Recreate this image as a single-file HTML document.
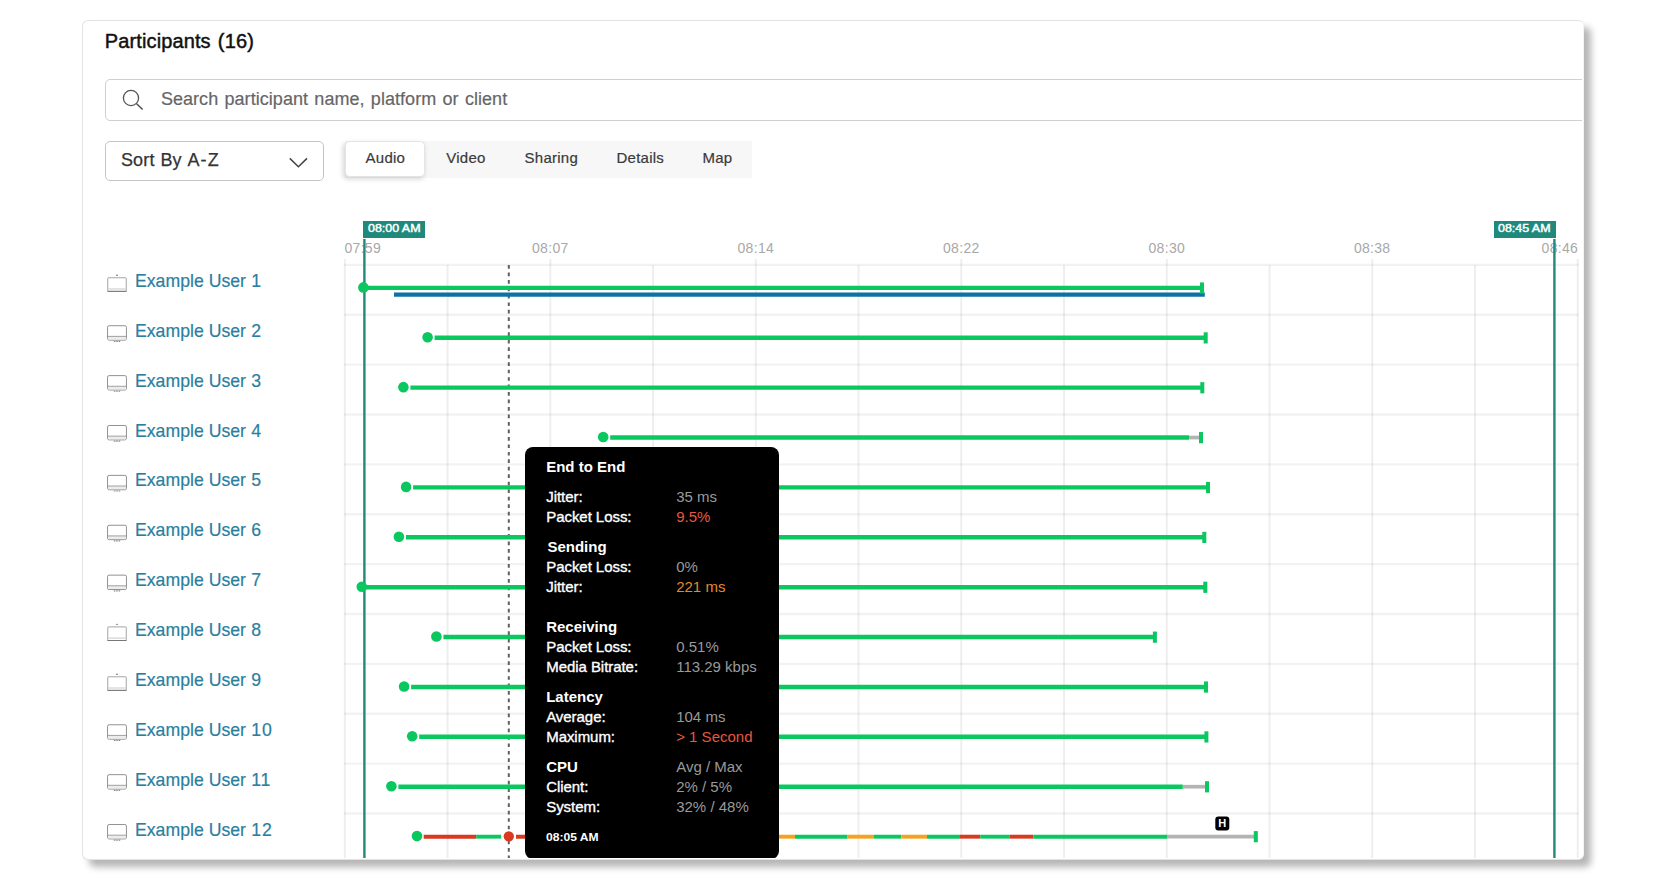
<!DOCTYPE html>
<html lang="en">
<head>
<meta charset="utf-8">
<title>Participants</title>
<style>
html,body{margin:0;padding:0;background:#fff;}
body{width:1664px;height:880px;position:relative;overflow:hidden;font-family:"Liberation Sans",sans-serif;color:#222;}
.card{position:absolute;left:82.3px;top:20.2px;width:1501.6px;height:839.8px;box-sizing:border-box;background:#fff;border:1.8px solid #e3e3e3;border-right-color:#f4f4f4;border-radius:6px;box-shadow:7px 7px 7px rgba(0,0,0,0.29);}
.clip{position:absolute;left:84px;top:22px;width:1498.4px;height:836.4px;overflow:hidden;border-radius:4px;}
.inner{position:absolute;left:-84px;top:-22px;width:1664px;height:880px;}
.abs{position:absolute;white-space:nowrap;}
.title{left:104.8px;top:29px;font-size:20px;line-height:24px;color:#111;letter-spacing:0.12px;-webkit-text-stroke:0.45px #111;}
.title span{margin-left:1.4px;letter-spacing:0.2px;}
.search{left:104.5px;top:79px;width:1490px;height:42px;box-sizing:border-box;border:1.4px solid #cfcfcf;border-radius:5px;}
.stext{left:160.9px;top:88px;font-size:18px;line-height:22px;color:#666;letter-spacing:0.05px;word-spacing:1.2px;-webkit-text-stroke:0.2px #666;}
.sort{left:104.5px;top:141px;width:219.5px;height:40px;box-sizing:border-box;border:1.4px solid #c4c4c4;border-radius:5px;}
.sorttext{left:120.9px;top:149px;font-size:18px;line-height:22px;color:#333;letter-spacing:0.2px;word-spacing:0.5px;-webkit-text-stroke:0.25px #333;}
.sorttext span{letter-spacing:1.1px;}
.tabs{left:345px;top:141px;width:407px;height:37.3px;background:#f7f7f7;}
.tabon{left:345.2px;top:141.2px;width:80.3px;height:36px;box-sizing:border-box;background:#fff;border:1px solid #e4e4e4;border-radius:4.5px;box-shadow:-1.5px 2px 5px rgba(0,0,0,0.17);}
.tab{top:149px;font-size:15px;line-height:18px;color:#3a3a3a;letter-spacing:0.25px;-webkit-text-stroke:0.2px #3a3a3a;}
.flag{top:221px;height:17.2px;width:62px;background:#1f8a7b;color:#fff;font-size:11px;font-weight:400;line-height:15.6px;text-align:center;-webkit-text-stroke:0.45px #fff;}
.flag span{display:inline-block;transform:scaleX(1.13);transform-origin:50% 50%;}
.nm span{letter-spacing:0.9px;margin-left:0.4px;}
.ax{position:absolute;top:238.8px;width:60px;margin-left:-30px;text-align:center;font-size:14px;line-height:18px;color:#a8a8a8;letter-spacing:0.3px;white-space:nowrap;}
.nm{position:absolute;left:135.1px;font-size:19px;line-height:22px;color:#2b7e9e;-webkit-text-stroke:0.2px #2b7e9e;white-space:nowrap;transform:scaleX(0.93);transform-origin:0 50%;}
svg.chart{position:absolute;left:0;top:0;}
.tip{position:absolute;left:525.2px;top:446.9px;width:253.4px;height:411.9px;background:#000;border-radius:8px;color:#fff;font-size:15px;line-height:20px;}
.tip div{position:absolute;white-space:nowrap;}
.tip div.th{left:21px;font-weight:700;}
.tl{left:21px;-webkit-text-stroke:0.35px #fff;letter-spacing:-0.05px;}
.tv{left:151px;}
.tv.g{color:#9a9a9a;}
.tv.red{color:#e8573f;}
.tv.or{color:#e58a2c;}
.tip div.tt{left:21px;font-size:11px;font-weight:700;transform:scaleX(1.10);transform-origin:0 50%;}
</style>
</head>
<body>
<div class="card"></div>
<div class="clip"><div class="inner">
<div class="abs title">Participants <span>(16)</span></div>
<div class="abs search"></div>
<div class="abs stext">Search participant name, platform or client</div>
<div class="abs sort"></div>
<div class="abs sorttext">Sort By <span>A-Z</span></div>
<div class="abs tabs"></div>
<div class="abs tabon"></div>
<div class="abs tab" style="left:365.6px">Audio</div>
<div class="abs tab" style="left:446.3px">Video</div>
<div class="abs tab" style="left:524.6px">Sharing</div>
<div class="abs tab" style="left:616.5px">Details</div>
<div class="abs tab" style="left:702.5px">Map</div>
<div class="ax" style="left:374.5px;text-align:left">07:59</div><div class="ax" style="left:550.3px">08:07</div><div class="ax" style="left:755.8px">08:14</div><div class="ax" style="left:961.3px">08:22</div><div class="ax" style="left:1166.8px">08:30</div><div class="ax" style="left:1372.2px">08:38</div><div class="ax" style="left:1548.1px;text-align:right">08:46</div>
<svg class="chart" width="1664" height="880" viewBox="0 0 1664 880">
<defs><clipPath id="cc"><rect x="84" y="22" width="1498.4" height="836.4"/></clipPath></defs>
<g clip-path="url(#cc)">
<line x1="344.85" y1="259" x2="344.85" y2="860" stroke="#000" stroke-opacity="0.066" stroke-width="2"/>
<line x1="447.59" y1="265" x2="447.59" y2="860" stroke="#000" stroke-opacity="0.066" stroke-width="2"/>
<line x1="550.33" y1="259" x2="550.33" y2="860" stroke="#000" stroke-opacity="0.066" stroke-width="2"/>
<line x1="653.07" y1="265" x2="653.07" y2="860" stroke="#000" stroke-opacity="0.066" stroke-width="2"/>
<line x1="755.81" y1="259" x2="755.81" y2="860" stroke="#000" stroke-opacity="0.066" stroke-width="2"/>
<line x1="858.55" y1="265" x2="858.55" y2="860" stroke="#000" stroke-opacity="0.066" stroke-width="2"/>
<line x1="961.29" y1="259" x2="961.29" y2="860" stroke="#000" stroke-opacity="0.066" stroke-width="2"/>
<line x1="1064.03" y1="265" x2="1064.03" y2="860" stroke="#000" stroke-opacity="0.066" stroke-width="2"/>
<line x1="1166.77" y1="259" x2="1166.77" y2="860" stroke="#000" stroke-opacity="0.066" stroke-width="2"/>
<line x1="1269.51" y1="265" x2="1269.51" y2="860" stroke="#000" stroke-opacity="0.066" stroke-width="2"/>
<line x1="1372.25" y1="259" x2="1372.25" y2="860" stroke="#000" stroke-opacity="0.066" stroke-width="2"/>
<line x1="1474.99" y1="265" x2="1474.99" y2="860" stroke="#000" stroke-opacity="0.066" stroke-width="2"/>
<line x1="1577.73" y1="259" x2="1577.73" y2="860" stroke="#000" stroke-opacity="0.066" stroke-width="2"/>
<line x1="344.25" y1="264.90" x2="1578.6" y2="264.90" stroke="#000" stroke-opacity="0.052" stroke-width="2.4"/>
<line x1="344.25" y1="314.77" x2="1578.6" y2="314.77" stroke="#000" stroke-opacity="0.052" stroke-width="2.4"/>
<line x1="344.25" y1="364.65" x2="1578.6" y2="364.65" stroke="#000" stroke-opacity="0.052" stroke-width="2.4"/>
<line x1="344.25" y1="414.52" x2="1578.6" y2="414.52" stroke="#000" stroke-opacity="0.052" stroke-width="2.4"/>
<line x1="344.25" y1="464.40" x2="1578.6" y2="464.40" stroke="#000" stroke-opacity="0.052" stroke-width="2.4"/>
<line x1="344.25" y1="514.27" x2="1578.6" y2="514.27" stroke="#000" stroke-opacity="0.052" stroke-width="2.4"/>
<line x1="344.25" y1="564.15" x2="1578.6" y2="564.15" stroke="#000" stroke-opacity="0.052" stroke-width="2.4"/>
<line x1="344.25" y1="614.02" x2="1578.6" y2="614.02" stroke="#000" stroke-opacity="0.052" stroke-width="2.4"/>
<line x1="344.25" y1="663.90" x2="1578.6" y2="663.90" stroke="#000" stroke-opacity="0.052" stroke-width="2.4"/>
<line x1="344.25" y1="713.77" x2="1578.6" y2="713.77" stroke="#000" stroke-opacity="0.052" stroke-width="2.4"/>
<line x1="344.25" y1="763.65" x2="1578.6" y2="763.65" stroke="#000" stroke-opacity="0.052" stroke-width="2.4"/>
<line x1="344.25" y1="813.52" x2="1578.6" y2="813.52" stroke="#000" stroke-opacity="0.052" stroke-width="2.4"/>
<line x1="364.4" y1="239" x2="364.4" y2="860" stroke="#1f8a7b" stroke-width="2.4"/>
<line x1="1554.4" y1="239" x2="1554.4" y2="860" stroke="#1f8a7b" stroke-width="2.4"/>
<line x1="508.8" y1="265" x2="508.8" y2="860" stroke="#606060" stroke-width="2" stroke-dasharray="3.7 3.775"/>
<line x1="367.1" y1="287.90" x2="1202.0" y2="287.90" stroke="#0ac760" stroke-width="4.4"/>
<line x1="394" y1="294.60" x2="1204.8" y2="294.60" stroke="#0b73a3" stroke-width="4.4"/>
<rect x="1200.0" y="282.40" width="4" height="11.2" fill="#0ac760"/>
<circle cx="363.4" cy="287.40" r="5.3" fill="#0ac760"/>
<line x1="434.6" y1="337.78" x2="1205.7" y2="337.78" stroke="#0ac760" stroke-width="4.4"/>
<rect x="1203.7" y="332.28" width="4" height="11.2" fill="#0ac760"/>
<circle cx="427.6" cy="337.28" r="5.3" fill="#0ac760"/>
<line x1="410.4" y1="387.66" x2="1202.3" y2="387.66" stroke="#0ac760" stroke-width="4.4"/>
<rect x="1200.3" y="382.16" width="4" height="11.2" fill="#0ac760"/>
<circle cx="403.4" cy="387.16" r="5.3" fill="#0ac760"/>
<line x1="610.2" y1="437.54" x2="1189.0" y2="437.54" stroke="#0ac760" stroke-width="4.4"/>
<line x1="1189" y1="437.54" x2="1199.5" y2="437.54" stroke="#b3b3b3" stroke-width="3.7"/>
<rect x="1199.0" y="432.04" width="4" height="11.2" fill="#0ac760"/>
<circle cx="603.2" cy="437.04" r="5.3" fill="#0ac760"/>
<line x1="413.1" y1="487.42" x2="1208.0" y2="487.42" stroke="#0ac760" stroke-width="4.4"/>
<rect x="1206.0" y="481.92" width="4" height="11.2" fill="#0ac760"/>
<circle cx="406.1" cy="486.92" r="5.3" fill="#0ac760"/>
<line x1="405.9" y1="537.30" x2="1204.3" y2="537.30" stroke="#0ac760" stroke-width="4.4"/>
<rect x="1202.3" y="531.80" width="4" height="11.2" fill="#0ac760"/>
<circle cx="398.9" cy="536.80" r="5.3" fill="#0ac760"/>
<line x1="365.5" y1="587.18" x2="1205.3" y2="587.18" stroke="#0ac760" stroke-width="4.4"/>
<rect x="1203.3" y="581.68" width="4" height="11.2" fill="#0ac760"/>
<circle cx="361.8" cy="586.68" r="5.3" fill="#0ac760"/>
<line x1="443.4" y1="637.06" x2="1154.9" y2="637.06" stroke="#0ac760" stroke-width="4.4"/>
<rect x="1152.9" y="631.56" width="4" height="11.2" fill="#0ac760"/>
<circle cx="436.4" cy="636.56" r="5.3" fill="#0ac760"/>
<line x1="411.1" y1="686.94" x2="1206.0" y2="686.94" stroke="#0ac760" stroke-width="4.4"/>
<rect x="1204.0" y="681.44" width="4" height="11.2" fill="#0ac760"/>
<circle cx="404.1" cy="686.44" r="5.3" fill="#0ac760"/>
<line x1="419.2" y1="736.82" x2="1206.4" y2="736.82" stroke="#0ac760" stroke-width="4.4"/>
<rect x="1204.4" y="731.32" width="4" height="11.2" fill="#0ac760"/>
<circle cx="412.2" cy="736.32" r="5.3" fill="#0ac760"/>
<line x1="398.4" y1="786.70" x2="1182.8" y2="786.70" stroke="#0ac760" stroke-width="4.4"/>
<line x1="1182.8" y1="786.70" x2="1205.5" y2="786.70" stroke="#b3b3b3" stroke-width="3.7"/>
<rect x="1205.0" y="781.20" width="4" height="11.2" fill="#0ac760"/>
<circle cx="391.4" cy="786.20" r="5.3" fill="#0ac760"/>
<line x1="423.7" y1="836.68" x2="476.2" y2="836.68" stroke="#d9391f" stroke-width="3.9"/>
<line x1="476.2" y1="836.68" x2="501.2" y2="836.68" stroke="#0ac760" stroke-width="3.9"/>
<line x1="516" y1="836.68" x2="778" y2="836.68" stroke="#d9391f" stroke-width="3.9"/>
<line x1="778" y1="836.68" x2="795" y2="836.68" stroke="#f5a21d" stroke-width="3.9"/>
<line x1="795" y1="836.68" x2="847.5" y2="836.68" stroke="#0ac760" stroke-width="3.9"/>
<line x1="847.5" y1="836.68" x2="874" y2="836.68" stroke="#f5a21d" stroke-width="3.9"/>
<line x1="874" y1="836.68" x2="901.2" y2="836.68" stroke="#0ac760" stroke-width="3.9"/>
<line x1="901.2" y1="836.68" x2="927" y2="836.68" stroke="#f5a21d" stroke-width="3.9"/>
<line x1="927" y1="836.68" x2="960" y2="836.68" stroke="#0ac760" stroke-width="3.9"/>
<line x1="960" y1="836.68" x2="980.3" y2="836.68" stroke="#d9391f" stroke-width="3.9"/>
<line x1="980.3" y1="836.68" x2="1009.4" y2="836.68" stroke="#0ac760" stroke-width="3.9"/>
<line x1="1009.4" y1="836.68" x2="1033.4" y2="836.68" stroke="#d9391f" stroke-width="3.9"/>
<line x1="1033.4" y1="836.68" x2="1167" y2="836.68" stroke="#0ac760" stroke-width="3.9"/>
<line x1="1167" y1="836.58" x2="1254.5" y2="836.58" stroke="#b3b3b3" stroke-width="3.7"/>
<rect x="1253.8" y="831.08" width="4" height="11.2" fill="#0ac760"/>
<circle cx="417.0" cy="836.08" r="5.3" fill="#0ac760"/>
<circle cx="508.8" cy="836.28" r="5.15" fill="#d9391f"/>
<rect x="1215.3" y="816.6" width="14" height="13.8" rx="3" fill="#000"/>
<text x="1222.35" y="827.4" font-family="Liberation Sans, sans-serif" font-size="11" font-weight="700" text-anchor="middle" fill="#fff">H</text>
<rect x="107.75" y="277.75" width="18.5" height="13.6" rx="0.6" fill="#fff" stroke="#9a9a9a" stroke-width="0.9"/><rect x="108.2" y="288.30" width="17.6" height="1.3" fill="#d6d6d6"/><line x1="107.4" y1="291.35" x2="126.6" y2="291.35" stroke="#777" stroke-width="1"/><ellipse cx="117" cy="275.20" rx="1.2" ry="0.7" fill="#8a8a8a"/>
<rect x="107.55" y="325.73" width="18.9" height="14.4" rx="1.6" fill="#fff" stroke="#858585" stroke-width="0.9"/><rect x="108.1" y="336.58" width="17.8" height="3" fill="#ececec"/><line x1="107.6" y1="336.38" x2="126.4" y2="336.38" stroke="#8a8a8a" stroke-width="0.8"/><line x1="113.8" y1="341.38" x2="120.2" y2="341.38" stroke="#8a8a8a" stroke-width="1.2" stroke-dasharray="1.6 0.8"/>
<rect x="107.55" y="375.61" width="18.9" height="14.4" rx="1.6" fill="#fff" stroke="#858585" stroke-width="0.9"/><rect x="108.1" y="386.46" width="17.8" height="3" fill="#ececec"/><line x1="107.6" y1="386.26" x2="126.4" y2="386.26" stroke="#8a8a8a" stroke-width="0.8"/><line x1="113.8" y1="391.26" x2="120.2" y2="391.26" stroke="#8a8a8a" stroke-width="1.2" stroke-dasharray="1.6 0.8"/>
<rect x="107.55" y="425.49" width="18.9" height="14.4" rx="1.6" fill="#fff" stroke="#858585" stroke-width="0.9"/><rect x="108.1" y="436.34" width="17.8" height="3" fill="#ececec"/><line x1="107.6" y1="436.14" x2="126.4" y2="436.14" stroke="#8a8a8a" stroke-width="0.8"/><line x1="113.8" y1="441.14" x2="120.2" y2="441.14" stroke="#8a8a8a" stroke-width="1.2" stroke-dasharray="1.6 0.8"/>
<rect x="107.55" y="475.37" width="18.9" height="14.4" rx="1.6" fill="#fff" stroke="#858585" stroke-width="0.9"/><rect x="108.1" y="486.22" width="17.8" height="3" fill="#ececec"/><line x1="107.6" y1="486.02" x2="126.4" y2="486.02" stroke="#8a8a8a" stroke-width="0.8"/><line x1="113.8" y1="491.02" x2="120.2" y2="491.02" stroke="#8a8a8a" stroke-width="1.2" stroke-dasharray="1.6 0.8"/>
<rect x="107.55" y="525.25" width="18.9" height="14.4" rx="1.6" fill="#fff" stroke="#858585" stroke-width="0.9"/><rect x="108.1" y="536.10" width="17.8" height="3" fill="#ececec"/><line x1="107.6" y1="535.90" x2="126.4" y2="535.90" stroke="#8a8a8a" stroke-width="0.8"/><line x1="113.8" y1="540.90" x2="120.2" y2="540.90" stroke="#8a8a8a" stroke-width="1.2" stroke-dasharray="1.6 0.8"/>
<rect x="107.55" y="575.13" width="18.9" height="14.4" rx="1.6" fill="#fff" stroke="#858585" stroke-width="0.9"/><rect x="108.1" y="585.98" width="17.8" height="3" fill="#ececec"/><line x1="107.6" y1="585.78" x2="126.4" y2="585.78" stroke="#8a8a8a" stroke-width="0.8"/><line x1="113.8" y1="590.78" x2="120.2" y2="590.78" stroke="#8a8a8a" stroke-width="1.2" stroke-dasharray="1.6 0.8"/>
<rect x="107.75" y="626.91" width="18.5" height="13.6" rx="0.6" fill="#fff" stroke="#9a9a9a" stroke-width="0.9"/><rect x="108.2" y="637.46" width="17.6" height="1.3" fill="#d6d6d6"/><line x1="107.4" y1="640.51" x2="126.6" y2="640.51" stroke="#777" stroke-width="1"/><ellipse cx="117" cy="624.36" rx="1.2" ry="0.7" fill="#8a8a8a"/>
<rect x="107.75" y="676.79" width="18.5" height="13.6" rx="0.6" fill="#fff" stroke="#9a9a9a" stroke-width="0.9"/><rect x="108.2" y="687.34" width="17.6" height="1.3" fill="#d6d6d6"/><line x1="107.4" y1="690.39" x2="126.6" y2="690.39" stroke="#777" stroke-width="1"/><ellipse cx="117" cy="674.24" rx="1.2" ry="0.7" fill="#8a8a8a"/>
<rect x="107.55" y="724.77" width="18.9" height="14.4" rx="1.6" fill="#fff" stroke="#858585" stroke-width="0.9"/><rect x="108.1" y="735.62" width="17.8" height="3" fill="#ececec"/><line x1="107.6" y1="735.42" x2="126.4" y2="735.42" stroke="#8a8a8a" stroke-width="0.8"/><line x1="113.8" y1="740.42" x2="120.2" y2="740.42" stroke="#8a8a8a" stroke-width="1.2" stroke-dasharray="1.6 0.8"/>
<rect x="107.55" y="774.65" width="18.9" height="14.4" rx="1.6" fill="#fff" stroke="#858585" stroke-width="0.9"/><rect x="108.1" y="785.50" width="17.8" height="3" fill="#ececec"/><line x1="107.6" y1="785.30" x2="126.4" y2="785.30" stroke="#8a8a8a" stroke-width="0.8"/><line x1="113.8" y1="790.30" x2="120.2" y2="790.30" stroke="#8a8a8a" stroke-width="1.2" stroke-dasharray="1.6 0.8"/>
<rect x="107.55" y="824.53" width="18.9" height="14.4" rx="1.6" fill="#fff" stroke="#858585" stroke-width="0.9"/><rect x="108.1" y="835.38" width="17.8" height="3" fill="#ececec"/><line x1="107.6" y1="835.18" x2="126.4" y2="835.18" stroke="#8a8a8a" stroke-width="0.8"/><line x1="113.8" y1="840.18" x2="120.2" y2="840.18" stroke="#8a8a8a" stroke-width="1.2" stroke-dasharray="1.6 0.8"/>
<circle cx="131" cy="98" r="7.6" fill="none" stroke="#555" stroke-width="1.3"/>
<line x1="136.6" y1="103.8" x2="142.6" y2="109.6" stroke="#4a4a4a" stroke-width="1.4"/>
<path d="M289.8 158.4 L298.4 166.8 L307 158.4" fill="none" stroke="#444" stroke-width="1.5"/>
</g>
</svg>
<div class="abs flag" style="left:363px"><span>08:00 AM</span></div>
<div class="abs flag" style="left:1493.5px"><span>08:45 AM</span></div>
<div class="nm" style="top:270px">Example User <span>1</span></div><div class="nm" style="top:320px">Example User <span>2</span></div><div class="nm" style="top:370px">Example User <span>3</span></div><div class="nm" style="top:420px">Example User <span>4</span></div><div class="nm" style="top:469px">Example User <span>5</span></div><div class="nm" style="top:519px">Example User <span>6</span></div><div class="nm" style="top:569px">Example User <span>7</span></div><div class="nm" style="top:619px">Example User <span>8</span></div><div class="nm" style="top:669px">Example User <span>9</span></div><div class="nm" style="top:719px">Example User <span>10</span></div><div class="nm" style="top:769px">Example User <span>11</span></div><div class="nm" style="top:819px">Example User <span>12</span></div>
<div class="tip">
<div class="th" style="top:10.1px">End to End</div><div class="tl" style="top:40.1px">Jitter:</div><div class="tv g" style="top:40.1px">35 ms</div><div class="tl" style="top:60.1px">Packet Loss:</div><div class="tv red" style="top:60.1px">9.5%</div><div class="th" style="top:90.1px;left:22.2px">Sending</div><div class="tl" style="top:110.1px">Packet Loss:</div><div class="tv g" style="top:110.1px">0%</div><div class="tl" style="top:130.1px">Jitter:</div><div class="tv or" style="top:130.1px">221 ms</div><div class="th" style="top:170.1px">Receiving</div><div class="tl" style="top:190.1px">Packet Loss:</div><div class="tv g" style="top:190.1px">0.51%</div><div class="tl" style="top:210.1px">Media Bitrate:</div><div class="tv g" style="top:210.1px">113.29 kbps</div><div class="th" style="top:240.1px">Latency</div><div class="tl" style="top:260.1px">Average:</div><div class="tv g" style="top:260.1px">104 ms</div><div class="tl" style="top:280.1px">Maximum:</div><div class="tv red" style="top:280.1px">&gt; 1 Second</div><div class="th" style="top:310.1px">CPU</div><div class="tv g" style="top:310.1px">Avg / Max</div><div class="tl" style="top:330.1px">Client:</div><div class="tv g" style="top:330.1px">2% / 5%</div><div class="tl" style="top:350.1px">System:</div><div class="tv g" style="top:350.1px">32% / 48%</div><div class="tt" style="top:379.7px">08:05 AM</div>
</div>
</div></div>
</body>
</html>
